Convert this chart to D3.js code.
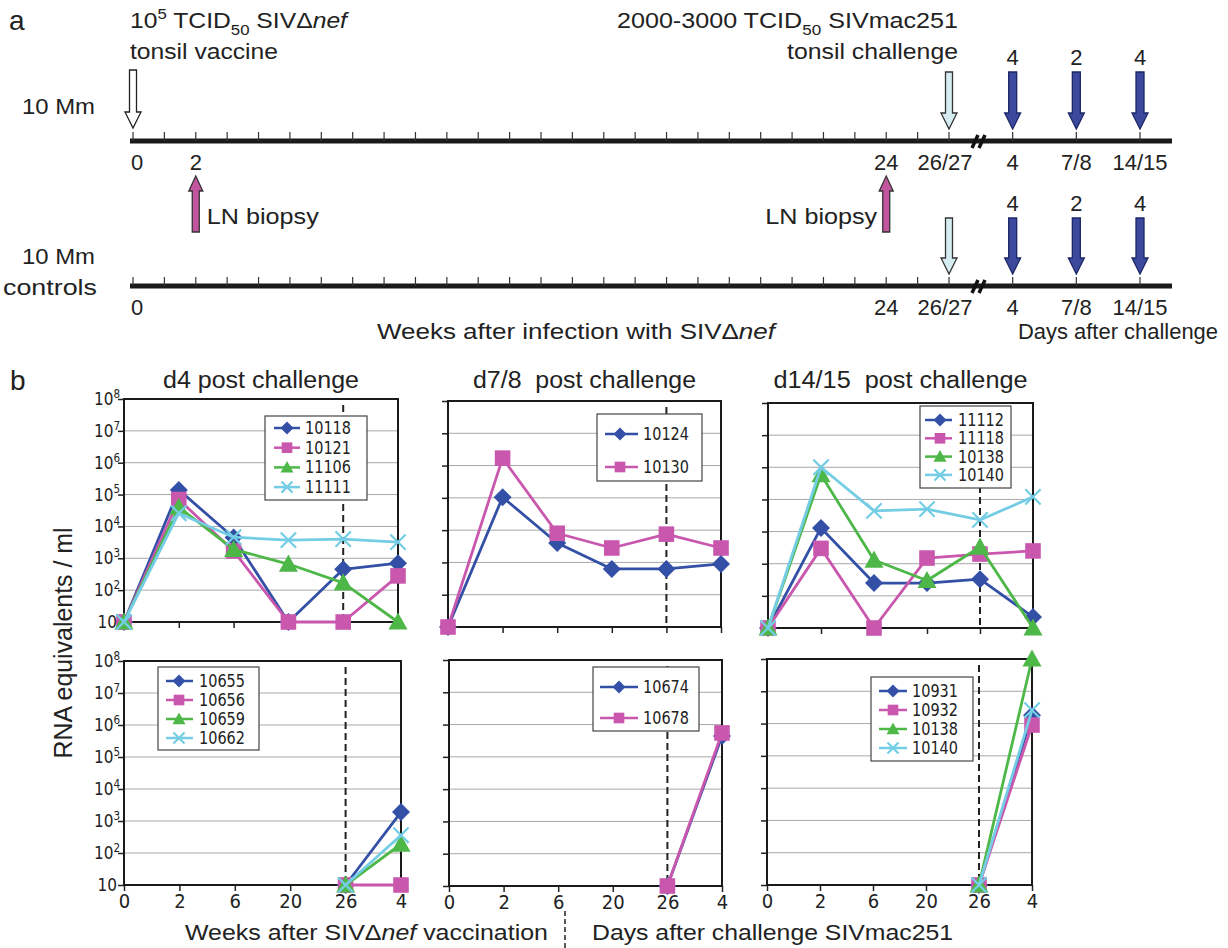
<!DOCTYPE html>
<html>
<head>
<meta charset="utf-8">
<script src="https://cdn.jsdelivr.net/npm/d3@7"></script>
<style>
  body { margin: 0; background: #fff; }
  svg text { font-family: "Liberation Sans", Arial, sans-serif; fill: #222; white-space: pre; }
  svg text.narrow { font-family: "Liberation Sans Narrow", "Arial Narrow", "DejaVu Sans Condensed", sans-serif; }
</style>
</head>
<body>
<svg id="fig" width="1228" height="948"></svg>
<script>
// ---- data ----
const sampleDays = ['0', '2', '6', '20', '26', '4']
const decades = [10, 1e2, 1e3, 1e4, 1e5, 1e6, 1e7, 1e8]

const d4Ids = ['10118', '10121', '11106', '11111']
const d4Values = [
  [10, 1.4e5, 4500, 10, 450, 700],
  [10, 7e4, 1700, 10, 10, 280],
  [10, 4e4, 1900, 660, 170, 10],
  [10, 2.6e4, 4600, 3700, 4000, 3200]
]
const d78Ids = ['10124', '10130']
const d78Values = [
  [10, 1.05e5, 4000, 630, 630, 900],
  [10, 1.7e6, 8000, 2800, 7500, 2800]
]
const d1415Ids = ['11112', '11118', '10138', '10140']
const d1415Values = [
  [10, 1.3e4, 250, 250, 330, 22],
  [10, 3000, 10, 1500, 2000, 2500],
  [10, 5.9e5, 1300, 300, 3300, 10],
  [10, 1e6, 4.4e4, 5e4, 2.3e4, 1.2e5]
]
const ctrl4Ids = ['10655', '10656', '10659', '10662']
const ctrl4Values = [
  [null, null, null, null, 10, 1900],
  [null, null, null, null, 10, 10],
  [null, null, null, null, 10, 190],
  [null, null, null, null, 10, 360]
]
const ctrl78Ids = ['10674', '10678']
const ctrl78Values = [
  [null, null, null, null, 10, 4.4e5],
  [null, null, null, null, 10, 5.5e5]
]
const ctrl1415Ids = ['10931', '10932', '10138', '10140']
const ctrl1415Values = [
  [null, null, null, null, 10, 1.8e6],
  [null, null, null, null, 10, 9e5],
  [null, null, null, null, 10, 1e8],
  [null, null, null, null, 10, 2.6e6]
]

// timeline (panel a)
const weekTicks = d3.range(0, 27)
const topWeekLabels = [0, 2, 24]
const bottomWeekLabels = [0, 24]
const dayLabels = ['4', '7/8', '14/15']
const animalsPerDay = [4, 2, 4]
const lnBiopsyWeeks = [2, 24]

const colors = ['#3350a6', '#c957ad', '#4db748', '#74cde4']

const svg = d3.select('#fig')

// rich text helper: parts are strings or [string, 'sup'|'sub'|'it']
function rich(g, x, y, size, parts, opt = {}) {
  const t = g.append('text')
    .attr('x', x).attr('y', y)
    .attr('font-size', size)
    .attr('text-anchor', opt.anchor || 'start')
  if (opt.cls) t.attr('class', opt.cls)
  if (opt.len) t.attr('textLength', opt.len).attr('lengthAdjust', 'spacingAndGlyphs')
  let shift = 0
  parts.forEach(p => {
    const [s, kind] = typeof p === 'string' ? [p, ''] : p
    const target = kind === 'sup' ? -size * 0.42 : kind === 'sub' ? size * 0.3 : 0
    const sp = t.append('tspan').text(s).attr('dy', target - shift)
    shift = target
    if (kind === 'sup' || kind === 'sub') sp.attr('font-size', size * 0.68)
    if (kind === 'it') sp.attr('font-style', 'italic')
  })
  return t
}

// ---- panel a: timeline ----
const weekX = d3.scaleLinear().domain([0, 26]).range([133, 949])
const dayX = d3.scalePoint().domain(['26/27'].concat(dayLabels)).range([949, 1140])

function arrow(g, x, yFrom, yTip, fill, stroke, sw = 7, hw = 16, hl = 16) {
  const dir = yTip > yFrom ? 1 : -1
  const yb = yTip - dir * hl
  const p = d3.path()
  p.moveTo(x - sw / 2, yFrom); p.lineTo(x + sw / 2, yFrom); p.lineTo(x + sw / 2, yb)
  p.lineTo(x + hw / 2, yb); p.lineTo(x, yTip); p.lineTo(x - hw / 2, yb); p.lineTo(x - sw / 2, yb)
  p.closePath()
  g.append('path').attr('d', p.toString()).attr('fill', fill)
    .attr('stroke', stroke).attr('stroke-width', 1.3).attr('stroke-linejoin', 'miter')
}

function timeline(lineY, arrowTop, weekLabels, hasVaccine) {
  const g = svg.append('g')
  g.append('line').attr('x1', 130).attr('x2', 1172).attr('y1', lineY).attr('y2', lineY)
    .attr('stroke', '#1a1a1a').attr('stroke-width', 5)
  const tickXs = weekTicks.map(w => weekX(w)).concat(dayLabels.map(d => dayX(d)))
  g.selectAll('.tk').data(tickXs).enter().append('line')
    .attr('x1', d => d).attr('x2', d => d).attr('y1', lineY - 9).attr('y2', lineY)
    .attr('stroke', '#333').attr('stroke-width', 1.2)
  // axis break
  ;[975, 982].forEach(x => {
    g.append('line').attr('x1', x - 3).attr('x2', x + 3).attr('y1', lineY + 7).attr('y2', lineY - 6)
      .attr('stroke', '#111').attr('stroke-width', 3.5)
  })
  weekLabels.forEach(w => {
    rich(g, weekX(w) + (w === 0 ? 4 : 0), lineY + 29, 22, [String(w)], { anchor: 'middle' })
  })
  rich(g, dayX('26/27') - 4, lineY + 29, 22, ['26/27'], { anchor: 'middle' })
  dayLabels.forEach(d => rich(g, dayX(d), lineY + 29, 22, [d], { anchor: 'middle' }))
  if (hasVaccine) arrow(g, weekX(0), arrowTop - 2, lineY - 13, '#fff', '#222')
  arrow(g, weekX(26), arrowTop, lineY - 12, '#d5edf1', '#333')
  dayLabels.forEach((d, i) => {
    arrow(g, dayX(d), arrowTop, lineY - 12, '#3b4a9d', '#1d2765', 8, 16, 16)
    rich(g, dayX(d), arrowTop - 7, 22, [String(animalsPerDay[i])], { anchor: 'middle' })
  })
}

rich(svg, 9, 30, 28, ['a'])
rich(svg, 130, 28, 22, ['10', ['5', 'sup'], ' TCID', ['50', 'sub'], ' SIV', 'Δ', ['nef', 'it']], { len: 217 })
rich(svg, 130, 59, 22, ['tonsil vaccine'], { len: 148 })
rich(svg, 958, 28, 22, ['2000-3000 TCID', ['50', 'sub'], ' SIVmac251'], { anchor: 'end', len: 341 })
rich(svg, 958, 59, 22, ['tonsil challenge'], { anchor: 'end', len: 171 })
rich(svg, 95, 114, 22, ['10 Mm'], { anchor: 'end', len: 73 })
rich(svg, 95, 264, 22, ['10 Mm'], { anchor: 'end', len: 73 })
rich(svg, 97, 295, 22, ['controls'], { anchor: 'end', len: 94 })

timeline(141, 72, topWeekLabels, true)
timeline(286, 218, bottomWeekLabels, false)

lnBiopsyWeeks.forEach((w, i) => {
  arrow(svg, weekX(w), 232, 176, '#c2569e', '#333', 7, 14, 15)
  if (i === 0) rich(svg, weekX(w) + 11, 224, 22, ['LN biopsy'], { len: 112 })
  else rich(svg, weekX(w) - 9, 224, 22, ['LN biopsy'], { anchor: 'end', len: 112 })
})

rich(svg, 377, 339, 22, ['Weeks after infection with SIV', 'Δ', ['nef', 'it']], { len: 398 })
rich(svg, 1018, 339, 22, ['Days after challenge'], { len: 200 })

// ---- panel b: viral loads ----
const symbolTypes = [
  { draw(c, s) { const r = Math.sqrt(s) / 2; c.moveTo(0, -r); c.lineTo(r, 0); c.lineTo(0, r); c.lineTo(-r, 0); c.closePath() } },
  { draw(c, s) { const r = Math.sqrt(s) / 2 * 0.82; c.rect(-r, -r, 2 * r, 2 * r) } },
  { draw(c, s) { const r = Math.sqrt(s) / 2; c.moveTo(0, -r); c.lineTo(r, r * 0.8); c.lineTo(-r, r * 0.8); c.closePath() } },
  { draw(c, s) { const r = Math.sqrt(s) / 2 * 0.85; c.moveTo(-r, -r); c.lineTo(r, r); c.moveTo(r, -r); c.lineTo(-r, r) } }
]

function drawMarker(g, x, y, k, size) {
  const path = d3.symbol().type(symbolTypes[k]).size(size * size)()
  const m = g.append('path').attr('d', path).attr('transform', `translate(${x},${y})`)
  if (k === 3) m.attr('fill', 'none').attr('stroke', colors[k]).attr('stroke-width', 2.2)
  else m.attr('fill', colors[k]).attr('stroke', 'none')
}

const panels = [
  { title: 'd4 post challenge', tLen: 196, ids: d4Ids, values: d4Values, box: [124, 398, 399, 622],
    legend: { x: 265, y: 416, w: 102, h: 84, first: 12, step: 19.7, l0: 9, l1: 35, m: 22, tx: 40 }, yLabels: true },
  { title: 'd7/8  post challenge', tLen: 223, ids: d78Ids, values: d78Values, box: [448, 721, 401, 627],
    legend: { x: 597, y: 414, w: 105, h: 67, first: 20, step: 33, l0: 8, l1: 41, m: 23, tx: 46 } },
  { title: 'd14/15  post challenge', tLen: 254, ids: d1415Ids, values: d1415Values, box: [768, 1033, 403, 628],
    legend: { x: 920, y: 406, w: 91, h: 82, first: 14, step: 18.3, l0: 5, l1: 32, m: 20, tx: 38 } },
  { ids: ctrl4Ids, values: ctrl4Values, box: [124, 401, 661, 885],
    legend: { x: 158, y: 667, w: 101, h: 83, first: 14, step: 19, l0: 8, l1: 35, m: 21, tx: 41 }, yLabels: true, xLabels: true },
  { ids: ctrl78Ids, values: ctrl78Values, box: [449, 722, 660, 886],
    legend: { x: 593, y: 667, w: 106, h: 64, first: 20, step: 31, l0: 7, l1: 45, m: 26, tx: 50 }, xLabels: true },
  { ids: ctrl1415Ids, values: ctrl1415Values, box: [767, 1032, 659, 885],
    legend: { x: 871, y: 677, w: 102, h: 84, first: 14, step: 19, l0: 8, l1: 36, m: 22, tx: 41 }, xLabels: true }
]

panels.forEach(p => {
  const [x0, x1, y0, y1] = p.box
  const x = d3.scalePoint().domain(sampleDays).range([x0, x1])
  const y = d3.scaleLog().domain([10, 1e8]).range([y1, y0])
  const g = svg.append('g')

  // gridlines
  g.selectAll('.grid').data(decades.slice(1, -1)).enter().append('line')
    .attr('x1', x0).attr('x2', x1).attr('y1', d => y(d)).attr('y2', d => y(d))
    .attr('stroke', '#a8a8a8').attr('stroke-width', 1)

  // y axis ticks
  const yAxis = d3.axisLeft(y).tickValues(decades).tickSize(6).tickFormat('')
  const ya = g.append('g').attr('transform', `translate(${x0},0)`).call(yAxis)
  ya.select('.domain').remove()
  ya.selectAll('line').attr('stroke', '#222').attr('stroke-width', 1.5)
  if (p.yLabels) {
    decades.forEach((d, i) => {
      const parts = i === 0 ? ['10'] : ['10', ['' + (i + 1), 'sup']]
      rich(g, x0 - 6, y(d) + 6, 17, parts, { cls: 'narrow', anchor: i === 0 ? 'end' : 'start' })
        .attr('x', i === 0 ? x0 - 7 : x0 - 30)
    })
  }

  // x axis ticks
  const xAxis = d3.axisBottom(x).tickSize(6).tickFormat(p.xLabels ? d => d : '')
  const xa = g.append('g').attr('transform', `translate(0,${y1})`).call(xAxis)
  xa.select('.domain').remove()
  xa.selectAll('line').attr('stroke', '#222').attr('stroke-width', 1.5)
  xa.selectAll('text').attr('class', 'narrow').attr('font-size', 20).attr('fill', '#222')
    .attr('y', 9).attr('dy', '0.71em')

  // frame
  g.append('rect').attr('x', x0).attr('y', y0).attr('width', x1 - x0).attr('height', y1 - y0)
    .attr('fill', 'none').attr('stroke', '#1a1a1a').attr('stroke-width', 2)

  // challenge marker
  g.append('line').attr('x1', x('26')).attr('x2', x('26')).attr('y1', y0 + 6).attr('y2', y1)
    .attr('stroke', '#222').attr('stroke-width', 2).attr('stroke-dasharray', '7,4')

  // series
  const line = d3.line().defined(d => d.v != null).x(d => x(d.day)).y(d => y(d.v))
  p.values.forEach((vals, k) => {
    const pts = vals.map((v, i) => ({ day: sampleDays[i], v }))
    g.append('path').datum(pts).attr('d', line).attr('fill', 'none')
      .attr('stroke', colors[k]).attr('stroke-width', 2.8).attr('stroke-linejoin', 'round')
    pts.filter(d => d.v != null).forEach(d => drawMarker(g, x(d.day), y(d.v), k, k === 1 ? 19 : k === 2 ? 19 : 18))
  })

  // legend
  const L = p.legend
  g.append('rect').attr('x', L.x).attr('y', L.y).attr('width', L.w).attr('height', L.h)
    .attr('fill', '#fff').attr('stroke', '#444').attr('stroke-width', 1.2)
  p.ids.forEach((id, k) => {
    const ly = L.y + L.first + k * L.step
    g.append('line').attr('x1', L.x + L.l0).attr('x2', L.x + L.l1).attr('y1', ly).attr('y2', ly)
      .attr('stroke', colors[k]).attr('stroke-width', 2.5)
    drawMarker(g, L.x + L.m, ly, k, 13)
    rich(g, L.x + L.tx, ly + 6, 17, [id], { cls: 'narrow', len: 46 })
  })

  if (p.title) rich(svg, (x0 + x1) / 2, 388, 23, [p.title], { anchor: 'middle', len: p.tLen })
})

rich(svg, 10, 390, 28, ['b'])
rich(svg, 0, 0, 25, ['RNA equivalents / ml'], { anchor: 'middle', len: 231 })
  .attr('transform', 'translate(72,643) rotate(-90)')

rich(svg, 185, 940, 22, ['Weeks after SIV', 'Δ', ['nef', 'it'], ' vaccination'], { len: 363 })
svg.append('line').attr('x1', 565).attr('x2', 565).attr('y1', 911).attr('y2', 948)
  .attr('stroke', '#222').attr('stroke-width', 1.5).attr('stroke-dasharray', '5,3')
rich(svg, 592, 940, 22, ['Days after challenge SIVmac251'], { len: 361 })
</script>
</body>
</html>
